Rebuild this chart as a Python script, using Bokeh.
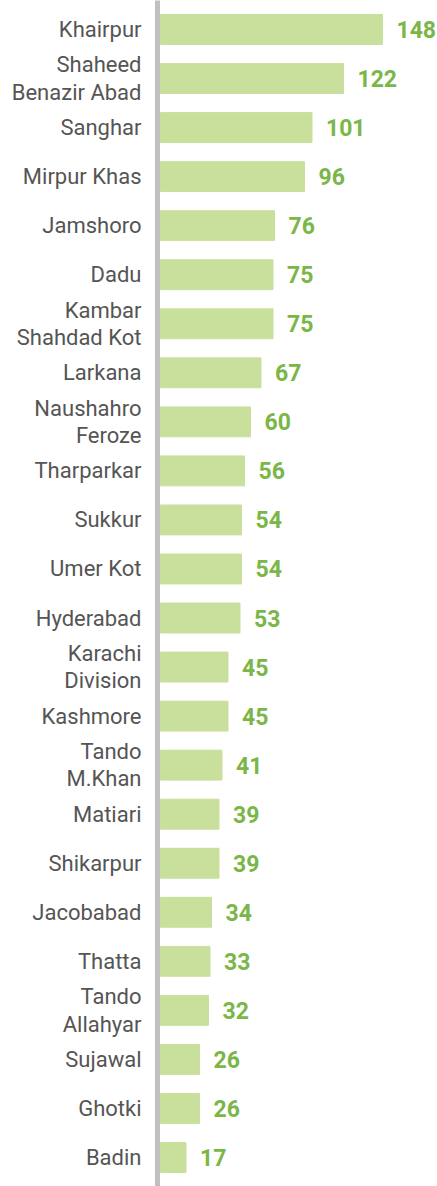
from bokeh.plotting import figure
from bokeh.models import ColumnDataSource, Range1d, FactorRange, LabelSet
from bokeh.core.properties import value
from bokeh.embed import file_html
from bokeh.resources import INLINE

districts = ["Khairpur", "Shaheed\nBenazir Abad", "Sanghar", "Mirpur Khas", "Jamshoro", "Dadu",
             "Kambar\nShahdad Kot", "Larkana", "Naushahro\nFeroze", "Tharparkar", "Sukkur",
             "Umer Kot", "Hyderabad", "Karachi\nDivision", "Kashmore", "Tando\nM.Khan", "Matiari",
             "Shikarpur", "Jacobabad", "Thatta", "Tando\nAllahyar", "Sujawal", "Ghotki", "Badin"]
counts = [148, 122, 101, 96, 76, 75, 75, 67, 60, 56, 54, 54, 53, 45, 45, 41, 39, 39, 34, 33, 32, 26, 26, 17]

BAR = "#c8e09c"
LBL = "#7ab648"

src = ColumnDataSource(dict(d=districts, v=counts, t=[str(c) for c in counts]))

yr = FactorRange(factors=list(reversed(districts)), range_padding=0.091, range_padding_units="absolute")
p = figure(width=437, height=1186, y_range=yr, x_range=Range1d(-2, 184.7),
           output_backend="svg", toolbar_location=None,
           min_border_left=157, min_border_right=0, min_border_top=0, min_border_bottom=0)
p.hbar(y="d", right="v", left=0, height=0.61, source=src, color=BAR)
p.add_layout(LabelSet(x="v", y="d", text="t", source=src, x_offset=14, y_offset=0,
                      text_baseline="middle", text_font=value("Roboto"),
                      text_font_style="bold", text_font_size="23px", text_color=LBL))

p.xaxis.visible = False
p.xgrid.visible = False
p.ygrid.visible = False
p.outline_line_color = None
ax = p.yaxis[0]
ax.axis_line_color = "#c0c0c0"
ax.axis_line_width = 5
ax.major_tick_line_color = None
ax.minor_tick_line_color = None
ax.major_label_standoff = 10
ax.major_label_text_font = "Roboto"
ax.major_label_text_font_size = "22px"
ax.major_label_text_color = "#555555"
ax.major_label_text_line_height = 1.1

open("out.html", "w").write(file_html(p, INLINE))
